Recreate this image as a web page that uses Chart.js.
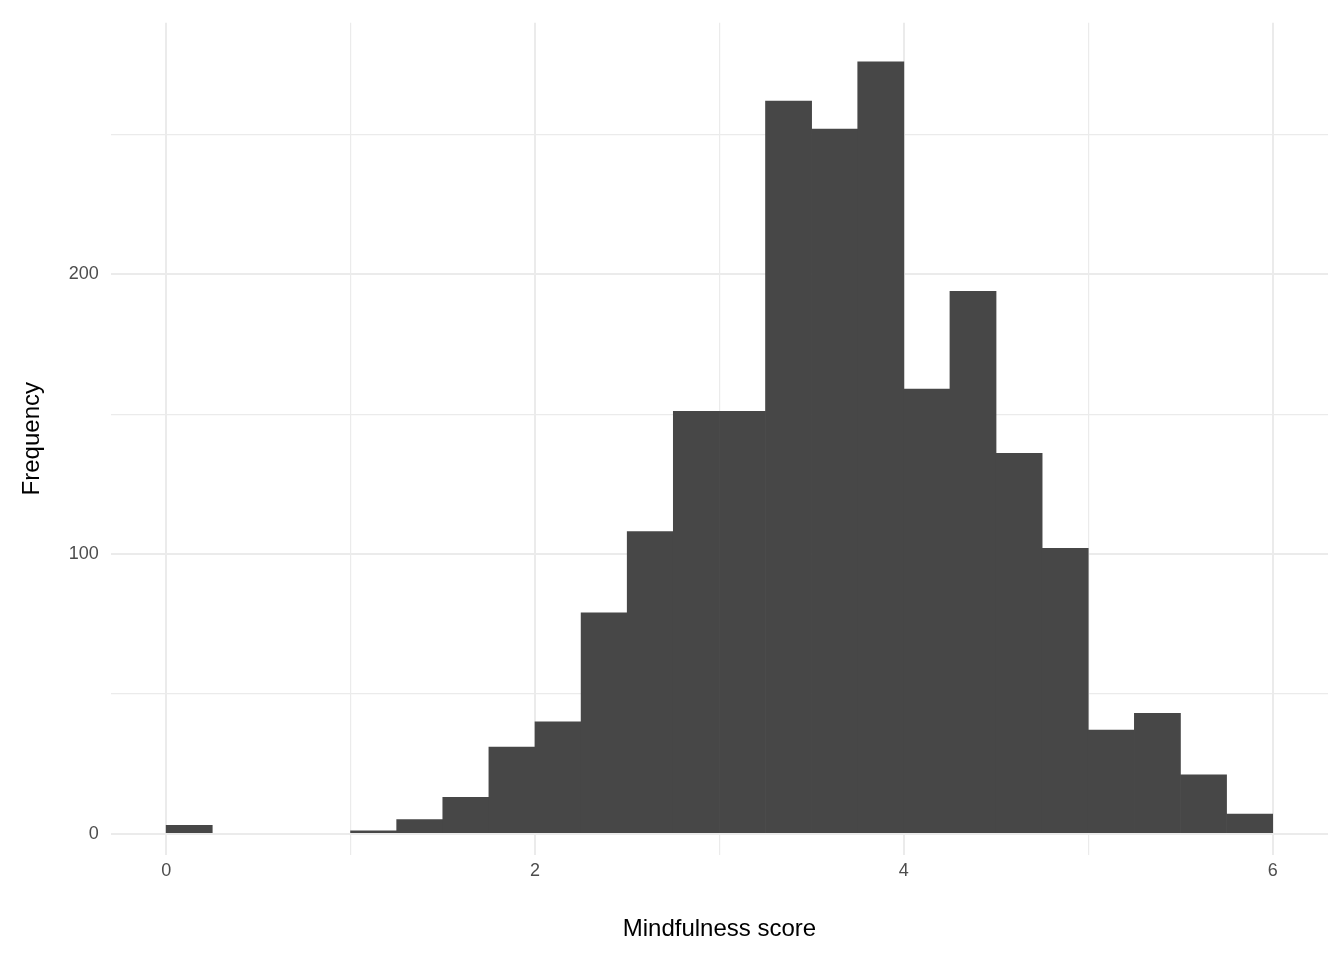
<!DOCTYPE html>
<html><head><meta charset="utf-8">
<script src="https://cdn.jsdelivr.net/npm/chart.js"></script>
<style>html,body{margin:0;padding:0;background:#fff}#wrap{width:1344px;height:960px}</style>
</head><body><div id="wrap"><canvas id="c"></canvas></div>
<script>
const binStarts = [0,0.25,0.5,0.75,1,1.25,1.5,1.75,2,2.25,2.5,2.75,3,3.25,3.5,3.75,4,4.25,4.5,4.75,5,5.25,5.5,5.75];
const counts = [3,0,0,0,1,5,13,31,40,79,108,151,151,262,252,276,159,194,136,102,37,43,21,7];
const binWidth = 0.25;
const xTickLabels = ['0','2','4','6'];
const yTickLabels = ['0','100','200'];
const data = binStarts.map((s,i)=>({x:s+binWidth/2,y:counts[i]===0?null:counts[i]}));
new Chart(document.getElementById('c'),{
  type:'bar',
  data:{datasets:[{data,backgroundColor:'#474747',borderWidth:0,barPercentage:1,categoryPercentage:1,grouped:false}]},
  options:{responsive:true,maintainAspectRatio:false,animation:false,
    layout:{padding:{left:14,right:16,top:8,bottom:12}},
    plugins:{legend:{display:false},tooltip:{enabled:false}},
    scales:{
      x:{type:'linear',min:-0.3,max:6.3,offset:false,border:{display:false},
        grid:{offset:false,color:'#ebebeb',lineWidth:ctx=>(ctx.tick&&ctx.tick.value%2===0?2:1.2),drawTicks:false},
        afterBuildTicks:a=>{a.ticks=[0,1,2,3,4,5,6].map(v=>({value:v}));},
        ticks:{padding:6,color:'#4d4d4d',font:{family:'Liberation Sans',size:18},
          callback:v=>(v%2===0?xTickLabels[v/2]:'')},
        title:{display:true,text:'Mindfulness score',color:'#000',font:{family:'Liberation Sans',size:24},padding:{top:27}}},
      y:{min:-7.5,max:290,border:{display:false},
        grid:{color:'#ebebeb',lineWidth:ctx=>(ctx.tick&&ctx.tick.value%100===0?2:1.2),drawTicks:false},
        afterBuildTicks:a=>{a.ticks=[0,50,100,150,200,250].map(v=>({value:v}));},
        ticks:{padding:12,color:'#4d4d4d',font:{family:'Liberation Sans',size:18},
          callback:v=>(v%100===0?yTickLabels[v/100]:'')},
        title:{display:true,text:'Frequency',color:'#000',font:{family:'Liberation Sans',size:24},padding:{bottom:10}}}
    }}
});
</script></body></html>
